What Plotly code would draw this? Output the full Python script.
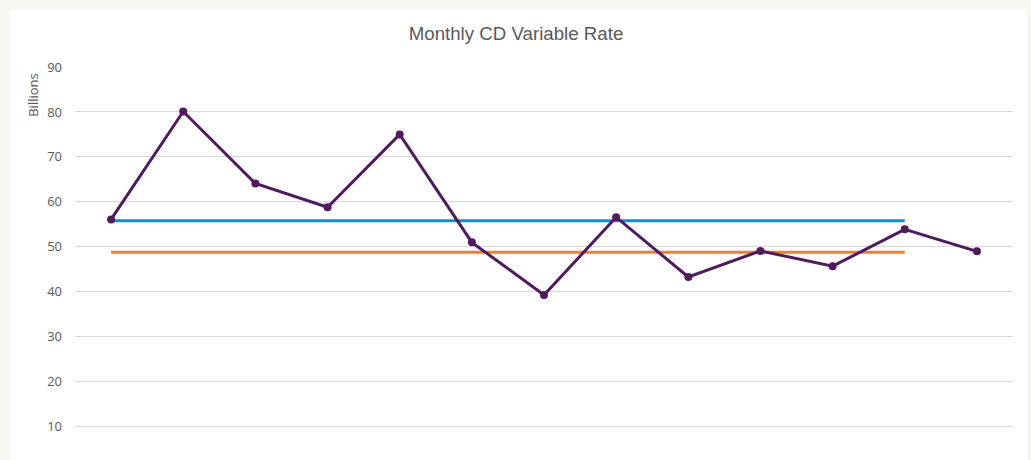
import plotly.graph_objects as go

months = list(range(1, 14))
rate = [56.1, 80.1, 64.1, 58.8, 75.0, 51.0, 39.3, 56.6, 43.3, 49.1, 45.7, 53.9, 49.0]
upper_x = list(range(1, 13))
upper = [55.8] * 12
lower = [48.8] * 12

W, H = 1031, 460
L, R, T = 75, 18, 66.7
pw = W - L - R
ph = H - T

fig = go.Figure()
fig.add_trace(go.Scatter(x=upper_x, y=upper, mode="lines",
                         line=dict(color="#0B92D5", width=3), hoverinfo="skip"))
fig.add_trace(go.Scatter(x=upper_x, y=lower, mode="lines",
                         line=dict(color="#F07E32", width=3), hoverinfo="skip"))
fig.add_trace(go.Scatter(x=months, y=rate, mode="lines+markers",
                         line=dict(color="#4F1B5E", width=3),
                         marker=dict(color="#4F1B5E", size=8)))

def px_x(p):
    return (p - L) / pw

def px_y(p):
    return (H - p) / ph

fig.add_shape(type="rect", xref="paper", yref="paper",
              x0=px_x(10), x1=px_x(1027), y0=-0.1, y1=px_y(10),
              fillcolor="white", line=dict(width=0), layer="below")

fig.add_annotation(text="Billions", xref="paper", yref="paper",
                   x=px_x(33.5), y=px_y(95), textangle=-90, showarrow=False,
                   font=dict(family="Open Sans", size=13, color="#595959"),
                   xanchor="center", yanchor="middle")

fig.update_layout(
    width=W, height=H,
    margin=dict(l=L, r=R, t=T, b=0),
    paper_bgcolor="#F8F7F2",
    plot_bgcolor="white",
    showlegend=False,
    title=dict(text="Monthly CD Variable Rate", x=516 / W, xanchor="center",
               y=1 - 33 / H, yanchor="middle", yref="container",
               font=dict(family="Liberation Sans", size=18.7, color="#595959")),
    xaxis=dict(range=[0.5, 13.5], showticklabels=False, showgrid=False,
               zeroline=False, showline=False, ticks=""),
    yaxis=dict(range=[90 - (H - T) / 4.5, 90], tickvals=[10, 20, 30, 40, 50, 60, 70, 80, 90],
               showgrid=True, gridcolor="#D9D9D9", gridwidth=1, zeroline=False,
               showline=False, ticks="", ticklabelstandoff=12,
               tickfont=dict(family="Open Sans", size=13, color="#595959")),
)

fig.write_html("out.html", config={"displayModeBar": False},
               post_script="document.body.style.margin='0px';document.body.style.overflow='hidden';")
